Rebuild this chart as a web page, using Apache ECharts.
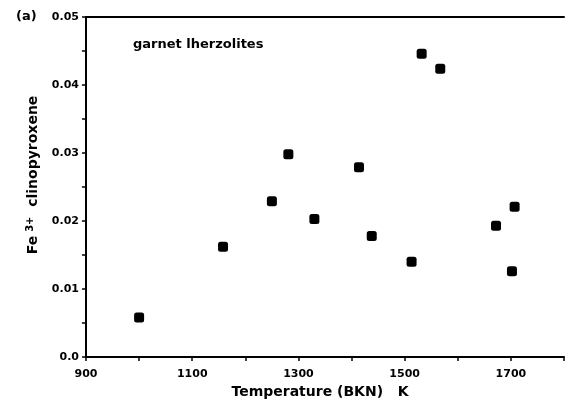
<!DOCTYPE html>
<html>
<head>
<meta charset="utf-8">
<script src="https://cdn.jsdelivr.net/npm/echarts@6/dist/echarts.min.js"></script>
<style>html,body{margin:0;padding:0;background:#fff}#c{width:567px;height:404px}</style>
</head>
<body>
<div id="c"></div>
<script>
const temperature = [1000, 1158, 1250, 1281, 1330, 1414, 1438, 1513, 1532, 1567, 1672, 1702, 1707];
const fe3 = [0.0058, 0.0162, 0.0229, 0.0298, 0.0203, 0.0279, 0.0178, 0.0140, 0.0446, 0.0424, 0.0193, 0.0126, 0.0221];
const xTickLabels = [900, 1100, 1300, 1500, 1700];
const yTickLabels = {0: '0.0', 10: '0.01', 20: '0.02', 30: '0.03', 40: '0.04', 50: '0.05'};

const points = temperature.map((t, i) => [t, fe3[i]]);
const font = '"DejaVu Sans", "Liberation Sans", Arial, sans-serif';
const chart = echarts.init(document.getElementById('c'));
chart.setOption({
  backgroundColor: '#fff',
  animation: false,
  grid: {left: 86, right: 2, top: 17, bottom: 45},
  xAxis: [{
    type: 'value', min: 900, max: 1800, interval: 100,
    axisLine: {show: true, lineStyle: {color: '#000', width: 2}},
    axisTick: {show: true, length: 4, lineStyle: {color: '#000', width: 1.5}},
    splitLine: {show: false},
    axisLabel: {
      color: '#000', fontFamily: font, fontWeight: 'bold', fontSize: 11, margin: 12,
      formatter: v => xTickLabels.indexOf(Math.round(v)) >= 0 ? String(Math.round(v)) : ''
    },
    name: 'Temperature (BKN)   K', nameLocation: 'middle', nameGap: 28,
    nameTextStyle: {color: '#000', fontFamily: font, fontWeight: 'bold', fontSize: 14, padding: [0, 10, 0, 0]}
  }, {
    type: 'value', position: 'top', min: 900, max: 1800,
    axisLine: {show: true, lineStyle: {color: '#000', width: 2}},
    axisTick: {show: false}, axisLabel: {show: false}, splitLine: {show: false}
  }],
  yAxis: {
    type: 'value', min: 0, max: 0.05, interval: 0.005,
    axisLine: {show: true, lineStyle: {color: '#000', width: 2}},
    axisTick: {show: true, length: 4, lineStyle: {color: '#000', width: 1.5}},
    splitLine: {show: false},
    axisLabel: {
      color: '#000', fontFamily: font, fontWeight: 'bold', fontSize: 11, margin: 7,
      formatter: v => { const k = Math.round(v * 1000); return yTickLabels[k] !== undefined ? yTickLabels[k] : ''; }
    },
    name: 'Fe{sup|3+}  clinopyroxene', nameLocation: 'middle', nameGap: 44, nameRotate: 90,
    nameTextStyle: {
      color: '#000', fontFamily: font, fontWeight: 'bold', fontSize: 14, padding: [0, 0, 0, 24],
      rich: {sup: {fontFamily: font, fontWeight: 'bold', fontSize: 10, color: '#000', verticalAlign: 'top', padding: [0, 0, 7, 4]}}
    }
  },
  series: [{
    type: 'scatter', data: points, symbol: 'roundRect', symbolSize: 10,
    itemStyle: {color: '#000', opacity: 1}
  }],
  graphic: [
    {type: 'text', left: 16, top: 10, style: {text: '(a)', font: 'bold 13px ' + font, fill: '#000'}},
    {type: 'text', left: 133, top: 38, style: {text: 'garnet lherzolites', font: 'bold 13px ' + font, fill: '#000'}}
  ]
});
</script>
</body>
</html>
